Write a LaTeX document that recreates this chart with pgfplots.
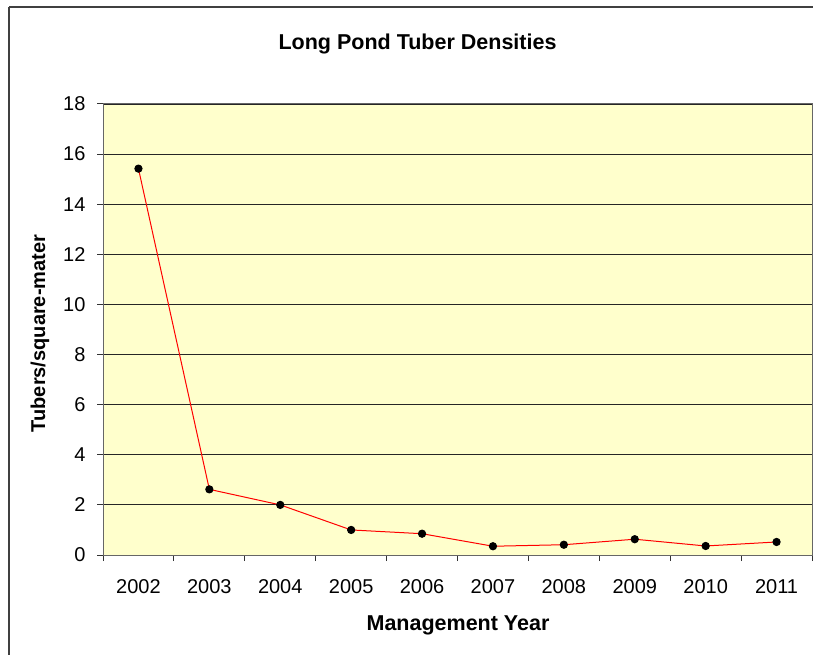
\documentclass[border=0pt]{standalone}
\usepackage{pgfplots}
\pgfplotsset{compat=1.18}
\usepackage{fontspec}
\setmainfont{Liberation Sans}
\definecolor{plotbg}{HTML}{FFFFCC}
\begin{document}
\begin{tikzpicture}
\useasboundingbox (0pt,0pt) rectangle (813pt,654pt);
\draw[line width=1.2pt, black!75] (9pt,647pt) -- (830pt,647pt);
\draw[line width=1.2pt, black!75] (9pt,647pt) -- (9pt,-20pt);
\begin{axis}[
  at={(103pt,99pt)}, anchor=south west,
  scale only axis, width=709pt, height=451pt,
  xmin=-0.5, xmax=9.5, ymin=0, ymax=18,
  ytick={0,2,...,18},
  xtick={0,...,9},
  xticklabels={2002,2003,2004,2005,2006,2007,2008,2009,2010,2011},
  minor xtick={-0.5,0.5,...,9.5},
  major x tick style={draw=none},
  minor x tick style={black!80, line width=1pt},
  y tick style={black!80, line width=1pt},
  tick align=outside,
  major tick length=6pt, minor tick length=6pt,
  xtick pos=bottom, ytick pos=left,
  ymajorgrids, grid style={black!85, line width=0.9pt},
  axis background/.style={fill=plotbg},
  axis line style={black!60, line width=1pt},
  tick label style={font=\fontsize{20}{24}\selectfont, black},
  xticklabel style={yshift=-15pt},
  yticklabel style={xshift=-8pt},
  /pgf/number format/assume math mode=true,
  clip=false,
]
\addplot[red, line width=1pt, mark=*, mark size=3.6pt, mark options={fill=black, draw=black}]
coordinates {(0,15.42) (1,2.62) (2,2.0) (3,1.0) (4,0.85) (5,0.35) (6,0.41) (7,0.63) (8,0.36) (9,0.52)};
\end{axis}
\node[font=\fontsize{21.5}{24}\selectfont\bfseries] at (417.5pt,610pt) {Long Pond Tuber Densities};
\node[font=\fontsize{21.5}{24}\selectfont\bfseries] at (458pt,29pt) {Management Year};
\node[font=\fontsize{20}{24}\selectfont\bfseries, rotate=90] at (40pt,320.5pt) {Tubers/square-mater};
\end{tikzpicture}
\end{document}
